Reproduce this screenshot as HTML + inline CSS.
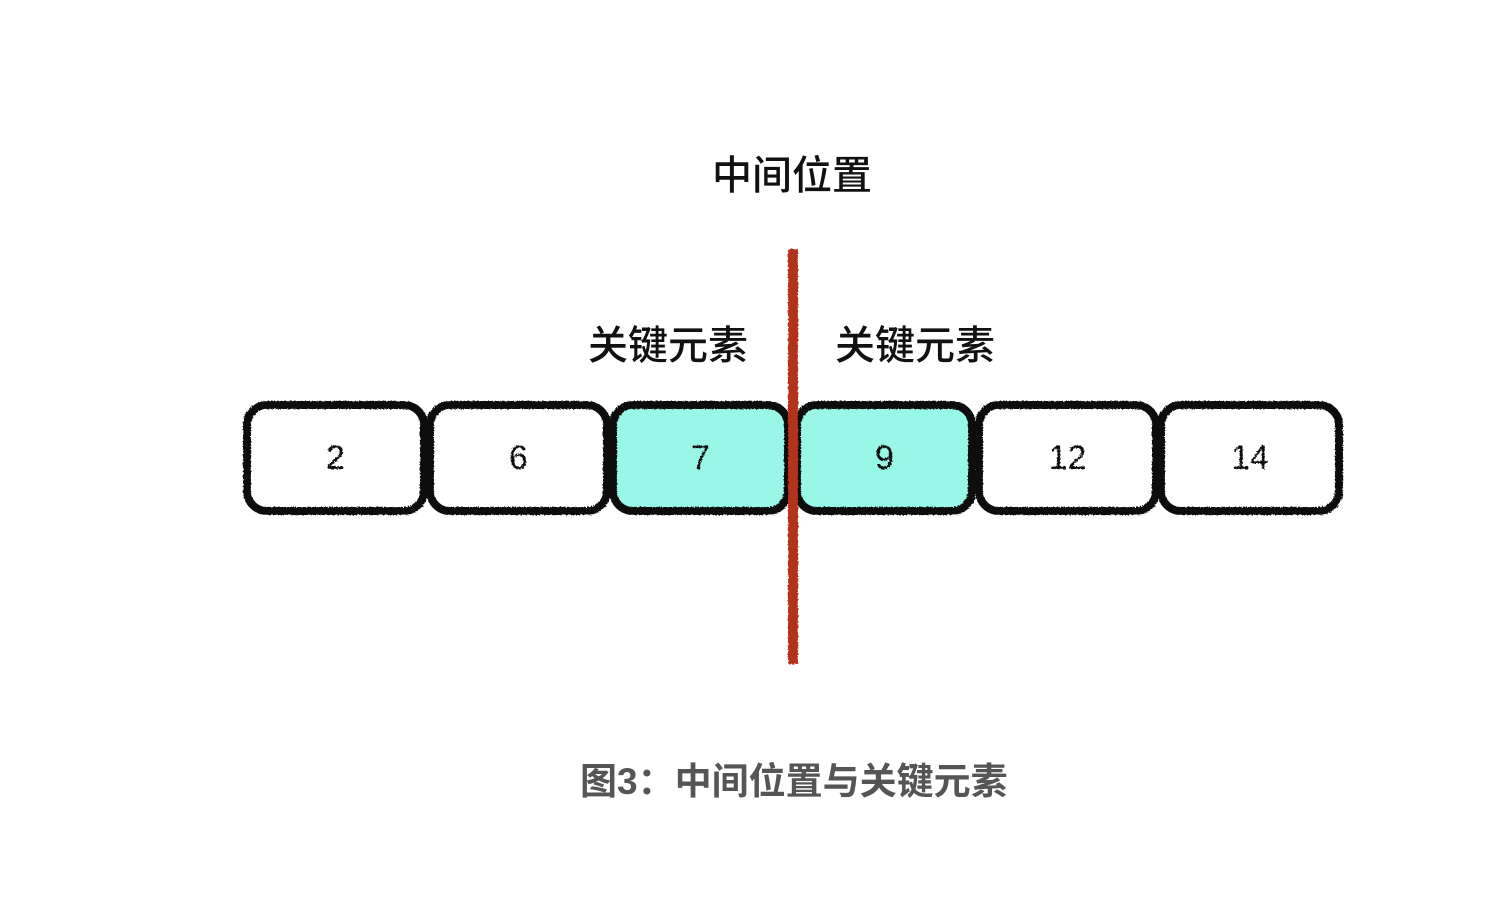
<!DOCTYPE html>
<html><head><meta charset="utf-8"><style>
html,body{margin:0;padding:0;background:#fff;}
body{width:1500px;height:916px;position:relative;overflow:hidden;font-family:"Liberation Sans","Noto Sans CJK SC",sans-serif;}
.t{position:absolute;white-space:nowrap;color:#111;}
.box{position:absolute;top:401px;height:114px;box-sizing:border-box;border:8px solid #111;border-radius:24px;background:#fff;display:flex;align-items:center;justify-content:center;font-size:34px;color:#111;filter:url(#rough);}
.hl{background:#98f7e6;}
</style></head><body>
<svg width="0" height="0" style="position:absolute"><defs>
<filter id="rough"><feTurbulence type="fractalNoise" baseFrequency="0.6" numOctaves="2" result="n"/><feDisplacementMap in="SourceGraphic" in2="n" scale="3"/></filter>
</defs></svg>
<div class="t" style="left:712px;top:143px;font-size:40px;font-weight:500;font-family:'Noto Sans CJK SC',sans-serif;">中间位置</div>
<div class="t" style="left:588px;top:313px;font-size:40px;font-weight:500;font-family:'Noto Sans CJK SC',sans-serif;">关键元素</div>
<div class="t" style="left:835px;top:313px;font-size:40px;font-weight:500;font-family:'Noto Sans CJK SC',sans-serif;">关键元素</div>
<div class="box" style="left:243px;width:185px;">2</div>
<div class="box" style="left:426px;width:185px;">6</div>
<div class="box hl" style="left:609px;width:183px;">7</div>
<div class="box hl" style="left:793px;width:183px;">9</div>
<div class="box" style="left:975px;width:185px;">12</div>
<div class="box" style="left:1157px;width:186px;">14</div>
<div style="position:absolute;left:788px;top:249px;width:10px;height:415px;background:#b3301f;filter:url(#rough);"></div>
<div class="t" style="left:580px;top:751px;font-size:37px;font-weight:bold;color:#555;font-family:'Liberation Sans','Noto Sans CJK SC',sans-serif;">图3：中间位置与关键元素</div>
</body></html>
